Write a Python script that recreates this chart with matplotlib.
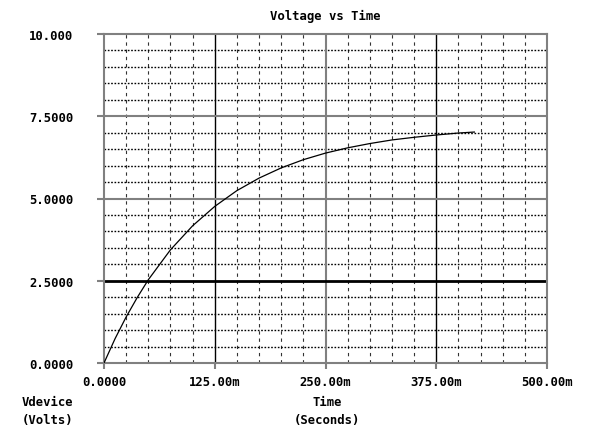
import matplotlib
matplotlib.use("Agg")
import matplotlib.pyplot as plt
import numpy as np

# valores (t en ms, V en voltios)
t_ms = [0, 12.5, 25, 37.5, 50, 75, 100, 125, 150, 175, 200, 225, 250,
        275, 300, 325, 350, 375, 400, 418]
v_device = [0.0, 0.74, 1.40, 1.99, 2.53, 3.44, 4.17, 4.76, 5.24, 5.62, 5.93,
            6.18, 6.38, 6.54, 6.67, 6.78, 6.86, 6.93, 6.99, 7.02]

x_ticks = [0, 125, 250, 375, 500]
x_labels = ["0.0000", "125.00m", "250.00m", "375.00m", "500.00m"]
y_ticks = [0, 2.5, 5.0, 7.5, 10.0]
y_labels = ["0.0000", "2.5000", "5.0000", "7.5000", "10.000"]
x_minor = [25, 50, 75, 100, 150, 175, 200, 225, 275, 300, 325, 350, 400, 425, 450, 475]
y_minor = [0.5, 1, 1.5, 2, 3, 3.5, 4, 4.5, 5.5, 6, 6.5, 7, 8, 8.5, 9, 9.5]

W, H = 592, 427
fig = plt.figure(figsize=(W / 100, H / 100), dpi=100)
ax = fig.add_axes([104 / W, 1 - 364 / H, 443 / W, 329 / H])

fnt = dict(family="DejaVu Sans Mono", weight="bold", size=8.8)
gray = "#808080"

# rejilla menor
for xm in x_minor:
    ax.axvline(xm, color="#333333", lw=0.8, ls=(0, (3, 3.5)), zorder=1)
for ym in y_minor:
    ax.axhline(ym, color="black", lw=1.0, ls=(0, (1.2, 1.2)), zorder=1)

# rejilla mayor
ax.axvline(125, color="black", lw=1.0, zorder=2)
ax.axvline(250, color=gray, lw=1.5, zorder=2)
ax.axvline(375, color="black", lw=1.0, zorder=2)
ax.axhline(5.0, color=gray, lw=1.5, zorder=2)
ax.axhline(7.5, color=gray, lw=1.5, zorder=2)
ax.axhline(2.5, color="black", lw=2.0, zorder=2)

ax.plot(t_ms, v_device, color="black", lw=0.9, zorder=3)

ax.set_xlim(0, 500)
ax.set_ylim(0, 10)
for s in ax.spines.values():
    s.set_color(gray)
    s.set_linewidth(1.5)

ax.set_xticks(x_ticks)
ax.set_xticklabels(x_labels, **fnt)
ax.set_yticks(y_ticks)
ax.set_yticklabels(y_labels, **fnt)
ax.tick_params(axis="x", direction="out", length=4.5, width=1.5, color=gray, pad=4)
ax.tick_params(axis="y", direction="out", length=5, width=1.5, color=gray, pad=17)

fig.text(325 / W, 1 - 16 / H, "Voltage vs Time", ha="center", va="center", **fnt)
fig.text(73 / W, 1 - 403 / H, "Vdevice", ha="right", va="center", **fnt)
fig.text(73 / W, 1 - 421 / H, "(Volts)", ha="right", va="center", **fnt)
fig.text(327 / W, 1 - 403 / H, "Time", ha="center", va="center", **fnt)
fig.text(327 / W, 1 - 421 / H, "(Seconds)", ha="center", va="center", **fnt)

fig.savefig("out.png", dpi=100, facecolor="white")
